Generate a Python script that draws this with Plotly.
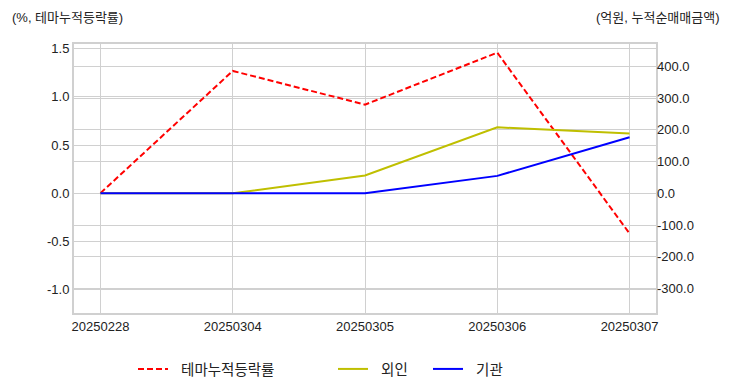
import plotly.graph_objects as go

dates = ["20250228", "20250304", "20250305", "20250306", "20250307"]
theme_ret = [0.0, 1.27, 0.92, 1.46, -0.42]
foreign = [0.0, 0.0, 56.0, 208.0, 189.0]
institution = [0.0, 0.0, 0.0, 55.0, 177.0]

left_ticks = [1.5, 1.0, 0.5, 0.0, -0.5, -1.0]
right_ticks = [400, 300, 200, 100, 0, -100, -200, -300]

FONT = "Liberation Sans, Arial, Noto Sans CJK KR, sans-serif"
GRID = "#d0d0d0"
PAD = "\u00a0\u00a0"

fig = go.Figure()
fig.add_trace(go.Scatter(x=dates, y=theme_ret, mode="lines", name=PAD + "테마누적등락률",
                         line=dict(color="#ff0000", width=2, dash="6px,3px"),
                         yaxis="y", legend="legend"))
fig.add_trace(go.Scatter(x=dates, y=foreign, mode="lines", name=PAD + "외인",
                         line=dict(color="#bfbf00", width=2),
                         yaxis="y2", legend="legend2"))
fig.add_trace(go.Scatter(x=dates, y=institution, mode="lines", name=PAD + "기관",
                         line=dict(color="#0000ff", width=2),
                         yaxis="y2", legend="legend3"))

leg_common = dict(orientation="h", yanchor="middle", xanchor="left", yref="container",
                  bgcolor="rgba(0,0,0,0)", font=dict(family=FONT, size=14.5, color="#222"),
                  itemwidth=30)
LEG_Y = 1 - 369 / 392
fig.update_layout(
    width=732, height=392,
    margin=dict(l=74, r=76, t=44, b=79, autoexpand=False),
    paper_bgcolor="white", plot_bgcolor="white",
    font=dict(family=FONT, size=13, color="#222"),
    showlegend=True,
    legend=dict(x=(133 - 74) / 582, y=LEG_Y, **leg_common),
    legend2=dict(x=(333 - 74) / 582, y=LEG_Y, **leg_common),
    legend3=dict(x=(428 - 74) / 582, y=LEG_Y, **leg_common),
    xaxis=dict(type="category", range=[-0.2, 4.2], showgrid=True, gridcolor=GRID,
               gridwidth=1, showline=True, linecolor=GRID, linewidth=2, mirror=True,
               ticks="", tickfont=dict(family=FONT, size=13, color="#222"), zeroline=False),
    yaxis=dict(range=[-1.246, 1.55], tickvals=left_ticks,
               ticktext=[f"{v:.1f}" for v in left_ticks],
               showgrid=True, gridcolor=GRID, gridwidth=1, zeroline=False,
               showline=True, linecolor=GRID, linewidth=2, mirror=True, ticks="",
               tickfont=dict(family=FONT, size=13, color="#222")),
    yaxis2=dict(range=[-377.6, 471], tickvals=right_ticks,
                ticktext=[f"{v:.1f}" for v in right_ticks],
                overlaying="y", side="right", showgrid=True, gridcolor=GRID, gridwidth=1,
                zeroline=False, showline=False, ticks="",
                tickfont=dict(family=FONT, size=13, color="#222")),
    annotations=[
        dict(text="(%, 테마누적등락률)", xref="paper", yref="paper", x=-64 / 582, y=1 + 27 / 269,
             xanchor="left", yanchor="middle", showarrow=False,
             font=dict(family=FONT, size=13, color="#222")),
        dict(text="(억원, 누적순매매금액)", xref="paper", yref="paper", x=1 + 66 / 582, y=1 + 27 / 269,
             xanchor="right", yanchor="middle", showarrow=False,
             font=dict(family=FONT, size=13, color="#222")),
    ],
)

fig.write_html("out.html", config={"displayModeBar": False},
               post_script="document.body.style.margin='0';document.body.style.padding='0';")
